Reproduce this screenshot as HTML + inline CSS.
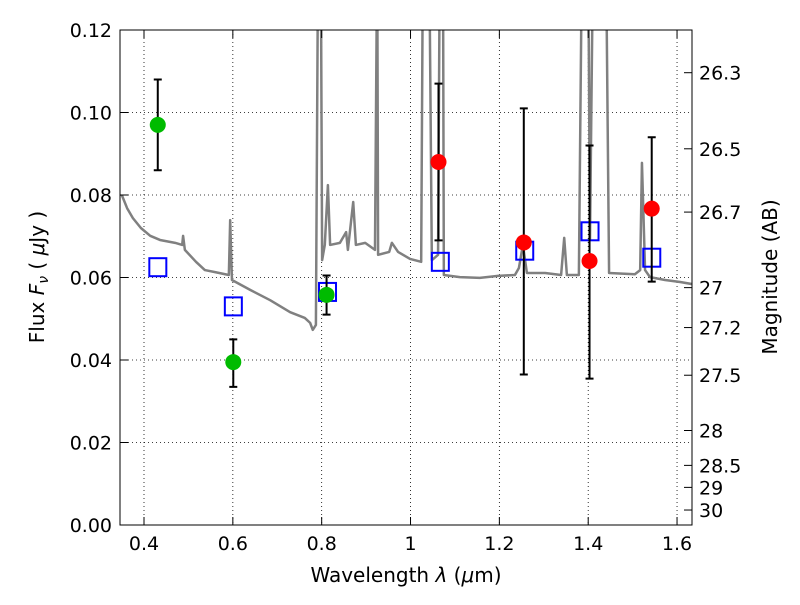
<!DOCTYPE html>
<html><head><meta charset="utf-8"><style>
body{margin:0;background:#fff;}
text{font-family:"DejaVu Sans","Liberation Sans",sans-serif;fill:#000;}
</style></head><body>
<svg id="chart" width="800" height="600" xmlns="http://www.w3.org/2000/svg">
<defs><clipPath id="pc"><rect x="120" y="30" width="572" height="495"/></clipPath></defs>
<g id="grid"></g>
<g id="plot" clip-path="url(#pc)"></g>
<g id="marks"></g>
<rect x="120" y="30" width="572" height="495" fill="none" stroke="#000" stroke-width="1"/>
<g id="axes"></g>
<text x="406" y="582" font-size="20" text-anchor="middle">Wavelength  <tspan font-style="italic">λ</tspan> (<tspan font-style="italic">μ</tspan>m)</text>
<text transform="translate(44,277) rotate(-90)" font-size="20" text-anchor="middle">Flux  <tspan font-style="italic">F</tspan><tspan font-style="italic" font-size="14" dy="4">ν</tspan><tspan dy="-4">  ( </tspan><tspan font-style="italic">μ</tspan>Jy )</text>
<text transform="translate(777,277) rotate(-90)" font-size="20" text-anchor="middle">Magnitude (AB)</text>
</svg>
<script>
const specLam=[0.350,0.362,0.375,0.393,0.414,0.436,0.470,0.486,0.488,0.492,0.517,0.537,0.560,0.591,0.594,0.598,0.639,0.684,0.729,0.762,0.774,0.780,0.787,0.792,0.798,0.801,0.807,0.814,0.819,0.841,0.855,0.859,0.871,0.877,0.898,0.920,0.925,0.927,0.952,0.958,0.972,0.999,1.024,1.028,1.042,1.048,1.062,1.066,1.073,1.075,1.111,1.156,1.197,1.235,1.244,1.253,1.262,1.303,1.339,1.346,1.352,1.379,1.386,1.400,1.404,1.411,1.440,1.447,1.505,1.517,1.521,1.528,1.539,1.573,1.607,1.634];
const specFlux=[0.0800,0.0768,0.0744,0.0720,0.0701,0.0691,0.0684,0.0679,0.0701,0.0667,0.0638,0.0618,0.0613,0.0606,0.0739,0.0594,0.0570,0.0545,0.0516,0.0502,0.0490,0.0473,0.0485,0.14,0.14,0.0642,0.0679,0.0824,0.0679,0.0684,0.0710,0.0667,0.0783,0.0679,0.0684,0.0667,0.14,0.0655,0.0662,0.0684,0.0662,0.0645,0.0638,0.14,0.14,0.0642,0.0655,0.14,0.14,0.0606,0.0601,0.0599,0.0604,0.0606,0.0623,0.0679,0.0611,0.0611,0.0606,0.0696,0.0606,0.0606,0.14,0.14,0.0691,0.14,0.14,0.0611,0.0608,0.0618,0.0878,0.0618,0.0601,0.0594,0.0589,0.0584];
const obsLam=[0.431,0.601,0.811,1.063,1.255,1.403,1.543];
const obsFlux=[0.097,0.0395,0.0558,0.088,0.0685,0.064,0.0767];
const obsLo=[0.086,0.0335,0.051,0.069,0.0365,0.0355,0.059];
const obsHi=[0.108,0.045,0.0605,0.107,0.101,0.092,0.094];
const obsColor=['#00bb00','#00bb00','#00bb00','red','red','red','red'];
const modLam=[0.430,0.600,0.812,1.066,1.256,1.403,1.542];
const modFlux=[0.0625,0.053,0.0565,0.0638,0.0665,0.0712,0.0648];
const xTicks=[0.4,0.6,0.8,1.0,1.2,1.4,1.6];
const xTickLabels=['0.4','0.6','0.8','1','1.2','1.4','1.6'];
const yTicks=[0,0.02,0.04,0.06,0.08,0.10,0.12];
const yTickLabels=['0.00','0.02','0.04','0.06','0.08','0.10','0.12'];
const magTicks=[26.3,26.5,26.7,27,27.2,27.5,28,28.5,29,30];
const magTickLabels=['26.3','26.5','26.7','27','27.2','27.5','28','28.5','29','30'];

const X=l=>144+(l-0.4)*444.2;
const Y=f=>525-f*4125;
const NS='http://www.w3.org/2000/svg';
function mk(tag,attrs,parent){const e=document.createElementNS(NS,tag);for(const k in attrs)e.setAttribute(k,attrs[k]);parent.appendChild(e);return e;}
const grid=document.getElementById('grid'),plot=document.getElementById('plot'),marks=document.getElementById('marks'),axes=document.getElementById('axes');

xTicks.forEach((t,i)=>{
 const x=X(t);
 const g=mk('line',{x1:x,x2:x,y1:30,y2:525,stroke:'#000','stroke-width':0.8,'stroke-dasharray':'1,3'},grid);
 
 
 mk('line',{x1:x,x2:x,y1:525,y2:517,stroke:'#000'},axes);
 mk('line',{x1:x,x2:x,y1:30,y2:38,stroke:'#000'},axes);
 const tx=mk('text',{x:x,y:550,'font-size':19,'text-anchor':'middle'},axes);tx.textContent=xTickLabels[i];
 
 
});
yTicks.forEach((t,i)=>{
 const y=Y(t);
 const g=mk('line',{x1:120,x2:692,y1:y,y2:y,stroke:'#000','stroke-width':0.8,'stroke-dasharray':'1,3'},grid);
 
 
 mk('line',{x1:120,x2:128,y1:y,y2:y,stroke:'#000'},axes);
 const tx=mk('text',{x:112,y:y+7,'font-size':19,'text-anchor':'end'},axes);tx.textContent=yTickLabels[i];
 
 
});
magTicks.forEach((m,i)=>{
 const y=Y(Math.pow(10,(23.9-m)/2.5));
 mk('line',{x1:684,x2:692,y1:y,y2:y,stroke:'#000'},axes);
 const tx=mk('text',{x:699,y:y+7,'font-size':19},axes);tx.textContent=magTickLabels[i];
 
 
});

const sp=mk('polyline',{points:specLam.map((l,i)=>X(l)+','+Y(specFlux[i])).join(' '),fill:'none',stroke:'#808080','stroke-width':2.5,'stroke-linejoin':'round'},plot);



modLam.forEach((l,i)=>{
 const r=mk('rect',{x:X(l)-8,y:Y(modFlux[i])-9,width:17,height:18,fill:'none',stroke:'#0000ff','stroke-width':2},marks);
 
 
});
obsLam.forEach((l,i)=>{
 const x=X(l);
 const e=mk('path',{d:`M${x},${Y(obsLo[i])}V${Y(obsHi[i])}M${x-4},${Y(obsLo[i])}h8M${x-4},${Y(obsHi[i])}h8`,stroke:'#000','stroke-width':2,fill:'none'},marks);
 
 
 const c=mk('circle',{cx:x,cy:Y(obsFlux[i]),r:8,fill:obsColor[i]},marks);
 
 
});
</script>
</body></html>
